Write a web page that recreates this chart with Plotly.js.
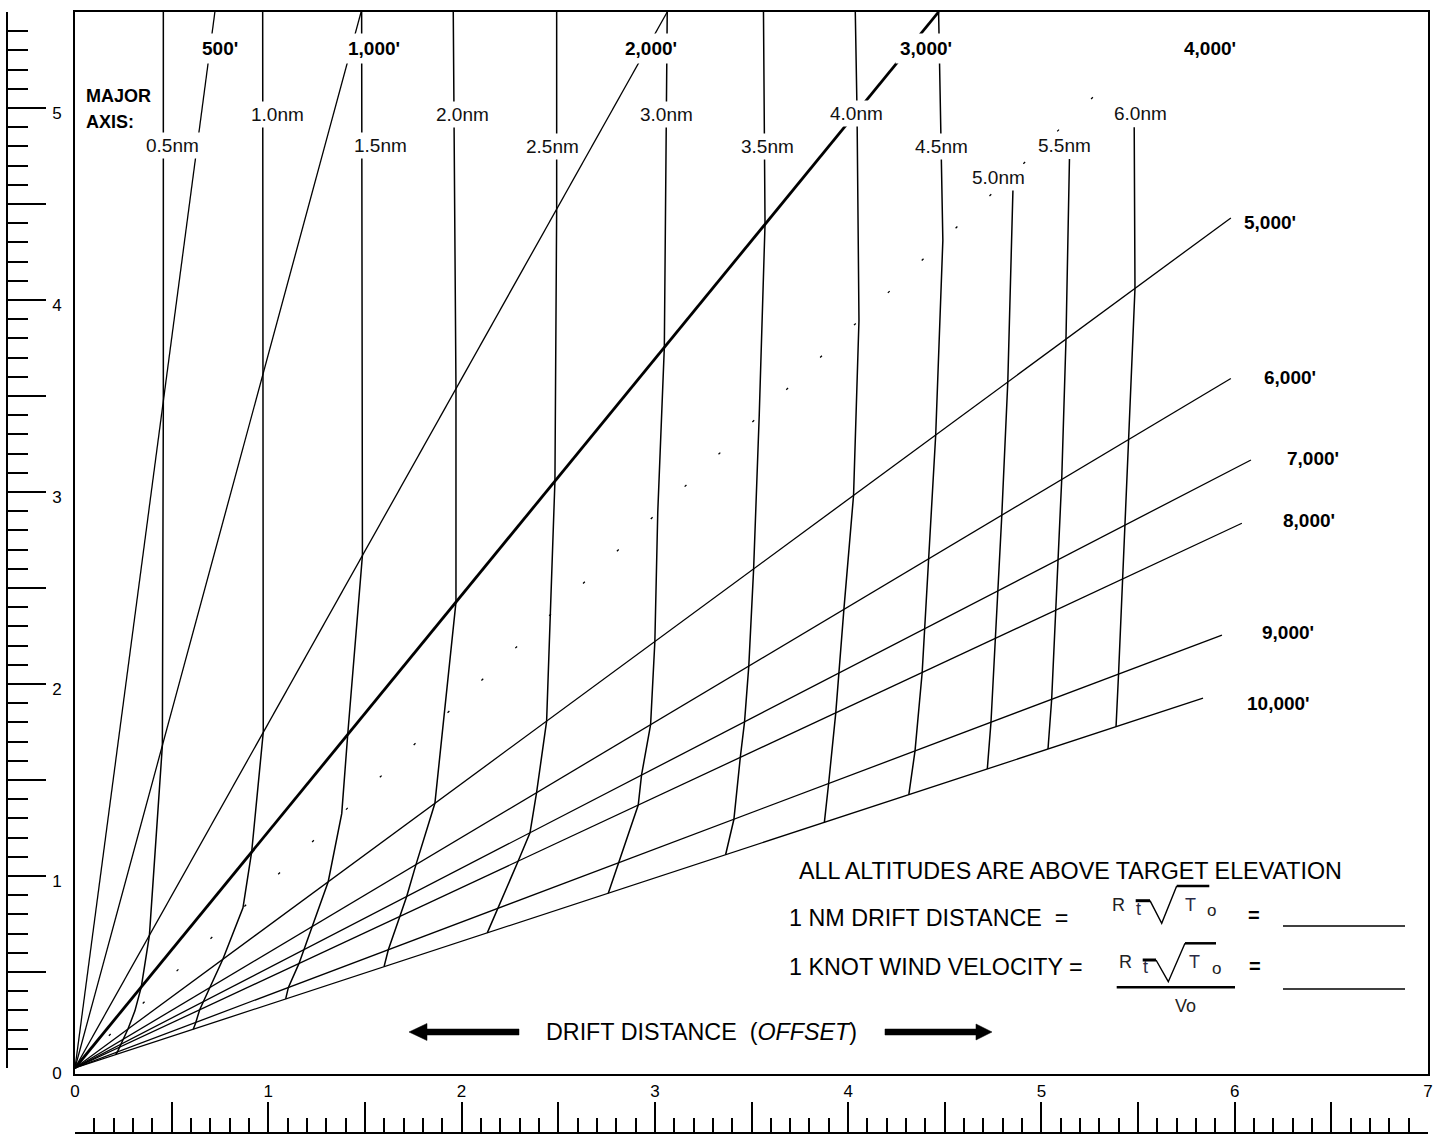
<!DOCTYPE html>
<html><head><meta charset="utf-8">
<script src="https://cdn.plot.ly/plotly-3.0.1.min.js"></script>
<style>html,body{margin:0;padding:0;background:#fff}#chart{width:1440px;height:1134px}</style>
</head><body><div id="chart"></div>
<script>
// ---------- DATA ----------
const altitudeLabels = ["500'", "1,000'", "2,000'", "3,000'", "4,000'", "5,000'", "6,000'", "7,000'", "8,000'", "9,000'", "10,000'"];
const altitudeSlopes = [7.6, 3.716, 1.795, 1.231, 0.96, 0.7404, 0.6005, 0.5205, 0.470, 0.380, 0.330];
const altitudeEndX   = [0.724, 1.480, 3.064, 4.468, 5.419, 5.980, 5.980, 6.084, 6.037, 5.934, 5.836];

const majorAxisLabels = ["0.5nm", "1.0nm", "1.5nm", "2.0nm", "2.5nm", "3.0nm", "3.5nm", "4.0nm", "4.5nm", "5.0nm", "5.5nm", "6.0nm"];
const majorAxisTopX = [0.457, 0.971, 1.483, 1.957, 2.492, 3.064, 3.562, 4.037, 4.468, 4.855, 5.145, 5.480];
const majorAxisTopY = [5.5, 5.5, 5.5, 5.5, 5.5, 5.5, 5.5, 5.5, 5.5, 4.661, 4.734, 4.900];
// drift distance where each major-axis curve crosses each altitude line (500' ... 10,000')
const nm05 = [0.457, 0.452, 0.385, 0.343, 0.310, 0.274, 0.251, 0.238, 0.228, 0.219, 0.210];
const nm10 = [null, 0.971, 0.974, 0.914, 0.869, 0.765, 0.698, 0.665, 0.645, 0.625, 0.612];
const nm15 = [null, null, 1.487, 1.411, 1.380, 1.310, 1.228, 1.186, 1.159, 1.104, 1.090];
const nm20 = [null, null, 1.971, 1.971, 1.910, 1.862, 1.764, 1.716, 1.681, 1.621, 1.599];
const nm25 = [null, null, 2.492, 2.483, 2.458, 2.440, 2.388, 2.354, 2.293, 2.190, 2.133];
const nm30 = [null, null, null, 3.049, 3.015, 3.000, 2.978, 2.931, 2.914, 2.810, 2.759];
const nm35 = [null, null, null, 3.570, 3.540, 3.511, 3.486, 3.464, 3.442, 3.409, 3.366];
const nm40 = [null, null, null, 4.046, 4.056, 4.028, 3.978, 3.951, 3.936, 3.899, 3.877];
const nm45 = [null, null, null, null, 4.490, 4.453, 4.416, 4.393, 4.383, 4.346, 4.314];
const nm50 = [null, null, null, null, null, 4.826, 4.795, 4.776, 4.763, 4.739, 4.720];
const nm55 = [null, null, null, null, null, 5.127, 5.105, 5.086, 5.071, 5.053, 5.034];
const nm60 = [null, null, null, null, null, 5.484, 5.451, 5.432, 5.423, 5.399, 5.386];
const majorAxisCrossings = [nm05, nm10, nm15, nm20, nm25, nm30, nm35, nm40, nm45, nm50, nm55, nm60];

const xTickLabels = ["0", "1", "2", "3", "4", "5", "6", "7"];
const yTickLabels = ["0", "1", "2", "3", "4", "5"];

// ---------- LAYOUT GEOMETRY ----------
const W = 1440, H = 1134, ML = 7, MR = 12, MT = 12, MB = 1;
const PW = W - ML - MR, PH = H - MT - MB;
const fx = px => (px - ML) / PW;
const fy = py => (H - MB - py) / PH;
const P = (px, py) => fx(px).toFixed(5) + ',' + fy(py).toFixed(5);
const FONT = 'Liberation Sans, Arial, Helvetica, sans-serif';

// label placement (data coords)
const altLabelPos = [[0.748,5.3125],[1.547,5.3125],[2.982,5.3125],[4.403,5.3125],[5.872,5.3125],
  [6.182,4.406],[6.286,3.594],[6.405,3.177],[6.384,2.849],[6.276,2.266],[6.228,1.896]];
const nmLabelPos = [[0.503,4.804],[1.049,4.967],[1.578,4.804],[2.006,4.967],[2.471,4.800],[3.061,4.967],
  [3.585,4.800],[4.041,4.971],[4.484,4.800],[4.776,4.638],[5.118,4.804],[5.512,4.971]];

// ---------- TRACES ----------
const traces = [];
altitudeLabels.forEach((name, i) => {
  const ex = altitudeEndX[i];
  traces.push({
    x: [0, ex], y: [0, altitudeSlopes[i] * ex], mode: 'lines', name: name,
    line: {color: '#000', width: i === 3 ? 2.8 : 1.3, dash: i === 4 ? '2.5px,44.3px' : 'solid'},
    hoverinfo: 'skip', showlegend: false
  });
});
majorAxisLabels.forEach((name, k) => {
  const xs = [majorAxisTopX[k]], ys = [majorAxisTopY[k]];
  majorAxisCrossings[k].forEach((v, i) => {
    if (v !== null) { xs.push(v); ys.push(altitudeSlopes[i] * v); }
  });
  traces.push({x: xs, y: ys, mode: 'lines', name: name,
    line: {color: '#000', width: 1.5}, hoverinfo: 'skip', showlegend: false});
});
// carrier traces for the two ruler axes
traces.push({x: [0], y: [0], xaxis: 'x2', yaxis: 'y', mode: 'markers', marker: {opacity: 0}, hoverinfo: 'skip', showlegend: false});
traces.push({x: [0], y: [0], xaxis: 'x', yaxis: 'y2', mode: 'markers', marker: {opacity: 0}, hoverinfo: 'skip', showlegend: false});

// ---------- ANNOTATIONS ----------
const ann = [];
altitudeLabels.forEach((t, i) => ann.push({
  x: altLabelPos[i][0], y: altLabelPos[i][1], xref: 'x', yref: 'y', text: '<b>' + t + '</b>',
  showarrow: false, bgcolor: '#fff', borderpad: 4, font: {family: FONT, size: 19, color: '#000'}
}));
majorAxisLabels.forEach((t, i) => ann.push({
  x: nmLabelPos[i][0], y: nmLabelPos[i][1], xref: 'x', yref: 'y', text: t,
  showarrow: false, bgcolor: '#fff', borderpad: 2, font: {family: FONT, size: 19, color: '#111'}
}));
function txt(text, px, py, size, anchor, color) {
  ann.push({x: fx(px), y: fy(py), xref: 'paper', yref: 'paper', text: text, showarrow: false,
    xanchor: anchor || 'left', yanchor: 'middle', borderpad: 0,
    font: {family: FONT, size: size, color: color || '#000'}});
}
txt('<b>MAJOR</b>', 85, 96, 18);
txt('<b>AXIS:</b>', 85, 122, 18);
txt('ALL ALTITUDES ARE ABOVE TARGET ELEVATION', 798, 871, 23.3);
txt('1 NM DRIFT DISTANCE\u00a0 =', 788, 918, 23.3);
txt('1 KNOT WIND VELOCITY =', 788, 967, 23.3);
txt('DRIFT DISTANCE\u00a0 (<i>OFFSET</i>)', 545, 1032, 23.3);
// formula pieces
txt('R', 1118.3, 905, 18, 'center', '#222');
txt('t', 1138.3, 909, 18, 'center', '#2a2a44');
txt('T', 1190, 905, 18, 'center', '#2a2a44');
txt('o', 1211.7, 910.7, 17, 'center', '#222');
txt('<b>=</b>', 1254.3, 915, 20, 'center');
txt('R', 1125, 961.7, 18, 'center', '#222');
txt('t', 1145, 966.7, 18, 'center', '#2a2a44');
txt('T', 1194, 961.7, 18, 'center', '#2a2a44');
txt('o', 1216.7, 968.3, 17, 'center', '#222');
txt('Vo', 1185, 1006, 18, 'center', '#222');
txt('<b>=</b>', 1255, 966, 20, 'center');

// ---------- SHAPES ----------
const shapes = [];
function line(x0, y0, x1, y1, w) {
  shapes.push({type: 'line', xref: 'paper', yref: 'paper', x0: fx(x0), y0: fy(y0), x1: fx(x1), y1: fy(y1),
    line: {color: '#000', width: w}});
}
function path(pts, closed, w) {
  const d = 'M' + pts.map(p => P(p[0], p[1])).join('L') + (closed ? 'Z' : '');
  shapes.push({type: 'path', xref: 'paper', yref: 'paper', path: d,
    fillcolor: closed ? '#000' : 'rgba(0,0,0,0)', line: {color: '#000', width: w}});
}
// arrows
path([[409, 1032], [427, 1023.5], [427, 1029], [519, 1029], [519, 1035], [427, 1035], [427, 1040.5]], true, 0.5);
path([[992, 1032], [976, 1024], [976, 1029], [885, 1029], [885, 1035], [976, 1035], [976, 1040]], true, 0.5);
// formula 1
line(1135.7, 900.7, 1150, 900.7, 3);
path([[1150, 900.7], [1161.7, 923.3], [1176.7, 886]], false, 1.4);
line(1176.7, 886, 1209.3, 886, 2.5);
// formula 2
line(1142.7, 960, 1156, 960, 3);
path([[1156, 960], [1168.3, 981.7], [1185, 943.3]], false, 1.4);
line(1185, 943.3, 1216, 943.3, 2.5);
line(1116.7, 987.3, 1235, 987.3, 2.5);
// blanks
line(1283, 926, 1405, 926, 1.5);
line(1283, 989, 1405, 989, 1.5);

// ---------- LAYOUT ----------
const layout = {
  width: W, height: H, margin: {l: ML, r: MR, t: MT, b: MB, pad: 0},
  paper_bgcolor: '#fff', plot_bgcolor: 'rgba(0,0,0,0)', showlegend: false,
  font: {family: FONT, color: '#000'},
  xaxis: {domain: [fx(75), 1], range: [0, 7], showline: true, mirror: true, linecolor: '#000', linewidth: 2,
    ticks: '', tickmode: 'array', tickvals: [0, 1, 2, 3, 4, 5, 6, 7], ticktext: xTickLabels,
    showgrid: false, zeroline: false, tickfont: {size: 17, family: FONT}, ticklabelstandoff: 1, fixedrange: true},
  yaxis: {domain: [fy(1074), 1], range: [-0.03125, 5.5], showline: true, mirror: true, linecolor: '#000', linewidth: 2,
    ticks: '', tickmode: 'array', tickvals: [0, 1, 2, 3, 4, 5], ticktext: yTickLabels,
    showgrid: false, zeroline: false, tickfont: {size: 17, family: FONT}, ticklabelstandoff: 8, ticklabelshift: 5, fixedrange: true},
  xaxis2: {domain: [fx(75), 1], range: [0, 7], anchor: 'free', position: 0, side: 'bottom',
    showline: true, linecolor: '#000', linewidth: 2, ticks: 'inside', tick0: 0, dtick: 0.5, ticklen: 30, tickwidth: 2,
    tickcolor: '#000', showticklabels: false, showgrid: false, zeroline: false,
    minor: {tick0: 0, dtick: 0.1, ticks: 'inside', ticklen: 14, tickwidth: 2, tickcolor: '#000', showgrid: false}, fixedrange: true},
  yaxis2: {domain: [fy(1068), 1], range: [0, 5.5], anchor: 'free', position: 0, side: 'left',
    showline: true, linecolor: '#000', linewidth: 2, ticks: 'inside', tick0: 0, dtick: 0.5, ticklen: 38, tickwidth: 2,
    tickcolor: '#000', showticklabels: false, showgrid: false, zeroline: false,
    minor: {tick0: 0, dtick: 0.1, ticks: 'inside', ticklen: 20, tickwidth: 2, tickcolor: '#000', showgrid: false}, fixedrange: true},
  annotations: ann, shapes: shapes
};
Plotly.newPlot('chart', traces, layout, {staticPlot: true, displayModeBar: false});
</script></body></html>
